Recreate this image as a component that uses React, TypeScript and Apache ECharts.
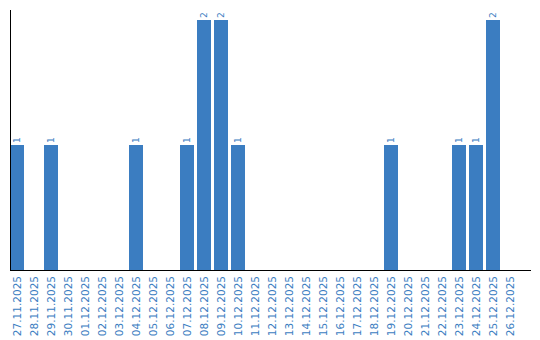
import React, { useEffect, useRef } from "react";
import * as echarts from "echarts";

const categories: string[] = [
  "27.11.2025", "28.11.2025", "29.11.2025", "30.11.2025", "01.12.2025",
  "02.12.2025", "03.12.2025", "04.12.2025", "05.12.2025", "06.12.2025",
  "07.12.2025", "08.12.2025", "09.12.2025", "10.12.2025", "11.12.2025",
  "12.12.2025", "13.12.2025", "14.12.2025", "15.12.2025", "16.12.2025",
  "17.12.2025", "18.12.2025", "19.12.2025", "20.12.2025", "21.12.2025",
  "22.12.2025", "23.12.2025", "24.12.2025", "25.12.2025", "26.12.2025",
];

const counts: (number | null)[] = [
  1, null, 1, null, null,
  null, null, 1, null, null,
  1, 2, 2, 1, null,
  null, null, null, null, null,
  null, null, 1, null, null,
  null, 1, 1, 2, null,
];

const BLUE = "#3b7dc1";

export default function App() {
  const ref = useRef<HTMLDivElement>(null);
  useEffect(() => {
    if (!ref.current) return;
    const chart = echarts.init(ref.current, undefined, { renderer: "svg" });
    chart.setOption({
      animation: false,
      grid: { left: 8.5, right: 21.5, top: 20, bottom: 70, containLabel: false },
      xAxis: {
        type: "category",
        data: categories,
        axisLine: { show: false },
        axisTick: { show: false },
        axisLabel: {
          rotate: 90,
          interval: 0,
          margin: 6,
          color: BLUE,
          fontFamily: "DejaVu Sans",
          fontSize: 10.5,
        },
      },
      yAxis: {
        type: "value",
        min: 0,
        max: 2,
        axisLine: { show: false },
        axisTick: { show: false },
        axisLabel: { show: false },
        splitLine: { show: false },
      },
      series: [
        {
          type: "bar",
          data: counts,
          barWidth: 14,
          itemStyle: { color: BLUE },
          label: {
            show: true,
            position: "top",
            rotate: 90,
            align: "left",
            verticalAlign: "middle",
            distance: 2,
            color: BLUE,
            fontFamily: "DejaVu Sans",
            fontSize: 9,
          },
        },
      ],
      graphic: [
        {
          type: "line",
          silent: true,
          shape: { x1: 10.5, y1: 10, x2: 10.5, y2: 270 },
          style: { stroke: "#000", lineWidth: 1 },
          z: 100,
        },
        {
          type: "line",
          silent: true,
          shape: { x1: 10, y1: 270.5, x2: 531, y2: 270.5 },
          style: { stroke: "#000", lineWidth: 1 },
          z: 100,
        },
      ],
    });
    return () => chart.dispose();
  }, []);
  return <div ref={ref} style={{ width: 540, height: 340, position: "absolute", left: 0, top: 0 }} />;
}
